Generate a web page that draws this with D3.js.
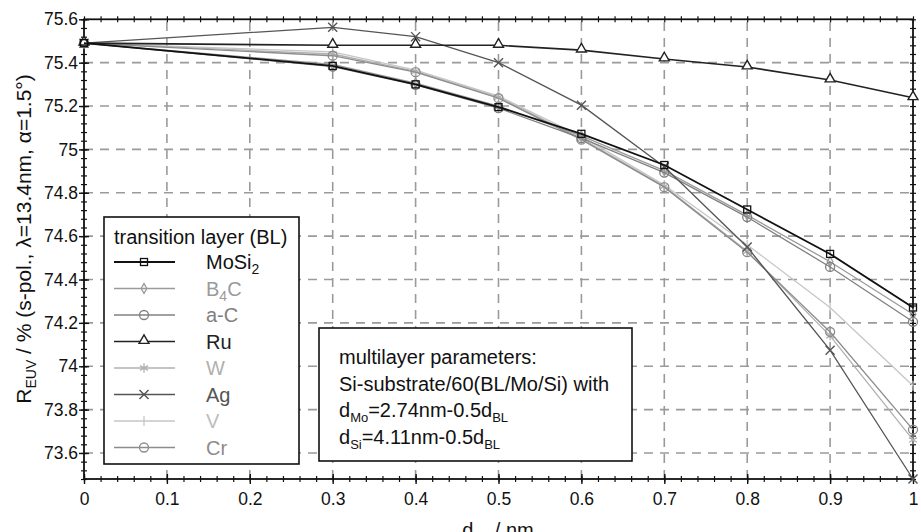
<!DOCTYPE html>
<html lang="en">
    <head>
        <meta charset="utf-8">
        <title>EUV reflectance vs barrier layer thickness</title>
        <script type="text/javascript" src="https://cdn.jsdelivr.net/npm/d3@7"></script>
        <style type="text/css">
        body { margin: 0; background: #fff; }
        svg { display: block; font-family: "Liberation Sans", Arial, sans-serif; }
        </style>
    </head>
    <body>
        <script type="text/javascript">
            // canvas and plot area (note: "top" is taken by window.top, so prefixed names)
            var w = 921;
            var h = 532;
            var pLeft = 84, pRight = 913, pTop = 19.3, pBottom = 479;

            // data
            var dBL   = [0, 0.3, 0.4, 0.5, 0.6, 0.7, 0.8, 0.9, 1.0];
            var mosi2 = [75.49, 75.385, 75.30, 75.195, 75.072, 74.928, 74.723, 74.518, 74.271];
            var b4c   = [75.49, 75.392, 75.306, 75.200, 75.062, 74.902, 74.697, 74.482, 74.240];
            var aC    = [75.49, 75.382, 75.298, 75.190, 75.052, 74.893, 74.688, 74.458, 74.205];
            var ru    = [75.49, 75.48, 75.48, 75.48, 75.458, 75.417, 75.38, 75.32, 75.238];
            var wL    = [75.49, 75.440, 75.360, 75.240, 75.050, 74.830, 74.530, 74.140, 73.660];
            var ag    = [75.49, 75.563, 75.520, 75.400, 75.204, 74.920, 74.550, 74.074, 73.480];
            var vL    = [75.49, 75.450, 75.366, 75.246, 75.060, 74.836, 74.560, 74.271, 73.910];
            var cr    = [75.49, 75.432, 75.356, 75.236, 75.045, 74.826, 74.526, 74.158, 73.708];

            var xTicks = [0, 0.1, 0.2, 0.3, 0.4, 0.5, 0.6, 0.7, 0.8, 0.9, 1];
            var xTickLabels = ["0", "0.1", "0.2", "0.3", "0.4", "0.5", "0.6", "0.7", "0.8", "0.9", "1"];
            var yTicks = [73.6, 73.8, 74, 74.2, 74.4, 74.6, 74.8, 75, 75.2, 75.4, 75.6];
            var yTickLabels = ["73.6", "73.8", "74", "74.2", "74.4", "74.6", "74.8", "75", "75.2", "75.4", "75.6"];

            // series: name parts (for subscripts), values, look
            var series = [
                { name: ["V"],          values: vL,    color: "#c6c6c6", width: 1.3, marker: "plus" },
                { name: ["W"],          values: wL,    color: "#b0b0b0", width: 1.3, marker: "asterisk" },
                { name: ["Cr"],         values: cr,    color: "#8c8c8c", width: 1.3, marker: "circleplus" },
                { name: ["B", "4", "C"], values: b4c,  color: "#9a9a9a", width: 1.3, marker: "diamond" },
                { name: ["a-C"],        values: aC,    color: "#808080", width: 1.3, marker: "circle" },
                { name: ["Ag"],         values: ag,    color: "#555555", width: 1.3, marker: "times" },
                { name: ["Ru"],         values: ru,    color: "#222222", width: 1.6, marker: "triangle" },
                { name: ["MoSi", "2"],  values: mosi2, color: "#111111", width: 1.8, marker: "square" }
            ];
            // legend order as in the picture
            var legendOrder = ["MoSi2", "B4C", "a-C", "Ru", "W", "Ag", "V", "Cr"];

            var x = d3.scaleLinear().domain([0, 1]).range([pLeft, pRight]);
            var y = d3.scaleLinear().domain([73.48, 75.6]).range([pBottom, pTop]);

            var svg = d3.select("body")
                        .append("svg")
                        .attr("width", w)
                        .attr("height", h);

            // dashed grid
            var grid = svg.append("g").attr("stroke", "#9a9a9a").attr("stroke-width", 1.6)
                          .attr("stroke-dasharray", "9,7");
            grid.selectAll("line.gx")
                .data(xTicks.slice(1, -1))
                .enter().append("line")
                .attr("class", "gx")
                .attr("x1", function(d) { return x(d); })
                .attr("x2", function(d) { return x(d); })
                .attr("y1", pBottom).attr("y2", pTop);
            grid.selectAll("line.gy")
                .data(yTicks.slice(0, -1))
                .enter().append("line")
                .attr("class", "gy")
                .attr("x1", pLeft).attr("x2", pRight)
                .attr("y1", function(d) { return y(d); })
                .attr("y2", function(d) { return y(d); });

            // minor ticks (cross the frame) on all four sides
            var xMinor = d3.range(0, 1.0001, 0.02);
            var yMinor = d3.range(73.48, 75.601, 0.04);
            function minorAxis(axis, tr) {
                var g = svg.append("g").attr("transform", tr).call(axis);
                g.selectAll("text").remove();
                g.select(".domain").remove();
                g.selectAll("line").attr("stroke", "#111").attr("stroke-width", 1.2);
                return g;
            }
            minorAxis(d3.axisBottom(x).tickValues(xMinor).tickSize(6), "translate(0," + (pBottom - 3) + ")");
            minorAxis(d3.axisBottom(x).tickValues(xMinor).tickSize(6), "translate(0," + (pTop - 3) + ")");
            minorAxis(d3.axisLeft(y).tickValues(yMinor).tickSize(6), "translate(" + (pLeft + 3) + ",0)");
            minorAxis(d3.axisLeft(y).tickValues(yMinor).tickSize(6), "translate(" + (pRight + 3) + ",0)");

            // major ticks with labels
            var xAxis = svg.append("g")
                .attr("transform", "translate(0," + (pBottom - 5) + ")")
                .call(d3.axisBottom(x).tickValues(xTicks).tickSize(10).tickPadding(6)
                      .tickFormat(function(d, i) { return xTickLabels[i]; }));
            var yAxis = svg.append("g")
                .attr("transform", "translate(" + (pLeft + 5) + ",0)")
                .call(d3.axisLeft(y).tickValues(yTicks).tickSize(10).tickPadding(3)
                      .tickFormat(function(d, i) { return yTickLabels[i]; }));
            [xAxis, yAxis].forEach(function(g) {
                g.select(".domain").remove();
                g.selectAll("line").attr("stroke", "#111").attr("stroke-width", 1.4);
                g.selectAll("text").attr("font-size", "17.5px").attr("fill", "#111")
                 .attr("font-family", "'Liberation Sans', Arial, sans-serif");
            });
            xAxis.selectAll("text").attr("dy", "0.71em").attr("y", 19);
            yAxis.selectAll("text").attr("x", -11);

            // frame
            svg.append("rect")
                .attr("x", pLeft).attr("y", pTop)
                .attr("width", pRight - pLeft).attr("height", pBottom - pTop)
                .attr("fill", "none").attr("stroke", "#111").attr("stroke-width", 1.8);

            // markers
            function drawMarker(g, type, color) {
                if (type === "square") {
                    g.append("rect").attr("x", -3.5).attr("y", -3.5).attr("width", 7).attr("height", 7)
                     .attr("fill", "none").attr("stroke", color).attr("stroke-width", 1.3);
                } else if (type === "circle") {
                    g.append("circle").attr("r", 4.5).attr("fill", "none").attr("stroke", color).attr("stroke-width", 1.3);
                } else if (type === "circleplus") {
                    g.append("circle").attr("r", 4.5).attr("fill", "none").attr("stroke", color).attr("stroke-width", 1.3);
                    g.append("path").attr("d", d3.symbol(d3.symbolPlus, 60)()).attr("fill", color);
                } else if (type === "diamond") {
                    g.append("path").attr("d", d3.symbol(d3.symbolDiamond, 28)())
                     .attr("fill", "none").attr("stroke", color).attr("stroke-width", 1.3);
                } else if (type === "triangle") {
                    g.append("path").attr("d", d3.symbol(d3.symbolTriangle2, 70)()).attr("transform", "translate(0,-1)")
                     .attr("fill", "#fff").attr("stroke", color).attr("stroke-width", 1.4);
                } else if (type === "asterisk") {
                    g.append("path").attr("d", d3.symbol(d3.symbolAsterisk, 60)())
                     .attr("fill", "none").attr("stroke", color).attr("stroke-width", 1.3);
                } else if (type === "times") {
                    g.append("path").attr("d", d3.symbol(d3.symbolTimes, 55)())
                     .attr("fill", "none").attr("stroke", color).attr("stroke-width", 1.4);
                } else if (type === "plus") {
                    g.append("line").attr("y1", -5).attr("y2", 5).attr("stroke", color).attr("stroke-width", 1.3);
                }
            }

            var line = d3.line()
                .x(function(d) { return x(d[0]); })
                .y(function(d) { return y(d[1]); });

            series.forEach(function(s) {
                var pts = dBL.map(function(d, i) { return [d, s.values[i]]; });
                svg.append("path")
                    .datum(pts)
                    .attr("d", line)
                    .attr("fill", "none")
                    .attr("stroke", s.color)
                    .attr("stroke-width", s.width);
                svg.selectAll(null)
                    .data(pts)
                    .enter().append("g")
                    .attr("transform", function(d) { return "translate(" + x(d[0]) + "," + y(d[1]) + ")"; })
                    .each(function() { drawMarker(d3.select(this), s.marker, s.color); });
            });

            // legend box
            var lg = svg.append("g");
            lg.append("rect").attr("x", 104).attr("y", 217).attr("width", 195).attr("height", 247)
                .attr("fill", "#fff").attr("stroke", "#111").attr("stroke-width", 1.6);
            lg.append("text").attr("x", 114).attr("y", 244).attr("font-size", "20px").attr("fill", "#111")
                .text("transition layer (BL)");
            legendOrder.forEach(function(key, i) {
                var s = series.filter(function(d) { return d.name.join("") === key; })[0];
                var ly = 262 + i * 26.5;
                lg.append("line").attr("x1", 114).attr("x2", 175).attr("y1", ly).attr("y2", ly)
                    .attr("stroke", s.color).attr("stroke-width", s.width);
                drawMarker(lg.append("g").attr("transform", "translate(144," + ly + ")"), s.marker, s.color);
                var t = lg.append("text").attr("x", 206).attr("y", ly + 7).attr("font-size", "20px")
                    .attr("fill", s.color === "#c6c6c6" ? "#bdbdbd" : s.color);
                t.append("tspan").text(s.name[0]);
                if (s.name.length > 1) {
                    t.append("tspan").attr("font-size", "14px").attr("dy", 5).text(s.name[1]);
                }
                if (s.name.length > 2) {
                    t.append("tspan").attr("dy", -5).text(s.name[2]);
                }
            });

            // parameter box
            var pb = svg.append("g");
            pb.append("rect").attr("x", 319).attr("y", 328).attr("width", 313).attr("height", 133)
                .attr("fill", "#fff").attr("stroke", "#111").attr("stroke-width", 1.6);
            pb.append("text").attr("x", 339).attr("y", 364).attr("font-size", "20px").attr("fill", "#111")
                .text("multilayer parameters:");
            pb.append("text").attr("x", 339).attr("y", 390.5).attr("font-size", "20px").attr("fill", "#111")
                .text("Si-substrate/60(BL/Mo/Si) with");
            function subLine(yy, a, sa, b, sb) {
                var t = pb.append("text").attr("x", 339).attr("y", yy).attr("font-size", "20px").attr("fill", "#111");
                t.append("tspan").text(a);
                t.append("tspan").attr("font-size", "13px").attr("dy", 5).text(sa);
                t.append("tspan").attr("dy", -5).text(b);
                t.append("tspan").attr("font-size", "13px").attr("dy", 5).text(sb);
            }
            subLine(417, "d", "Mo", "=2.74nm-0.5d", "BL");
            subLine(444, "d", "Si", "=4.11nm-0.5d", "BL");

            // axis titles
            var xt = svg.append("text").attr("x", 498).attr("y", 537).attr("text-anchor", "middle")
                .attr("font-size", "20px").attr("fill", "#111");
            xt.append("tspan").text("d");
            xt.append("tspan").attr("font-size", "13px").attr("dy", 5).text("BL");
            xt.append("tspan").attr("dy", -5).text(" / nm");

            var yt = svg.append("text")
                .attr("transform", "translate(31,239) rotate(-90)")
                .attr("text-anchor", "middle")
                .attr("font-size", "21px").attr("fill", "#111");
            yt.append("tspan").text("R");
            yt.append("tspan").attr("font-size", "14px").attr("dy", 5).text("EUV");
            yt.append("tspan").attr("dy", -5).text(" / % (s-pol., \u03bb=13.4nm, \u03b1=1.5\u00b0)");
        </script>
    </body>
</html>
